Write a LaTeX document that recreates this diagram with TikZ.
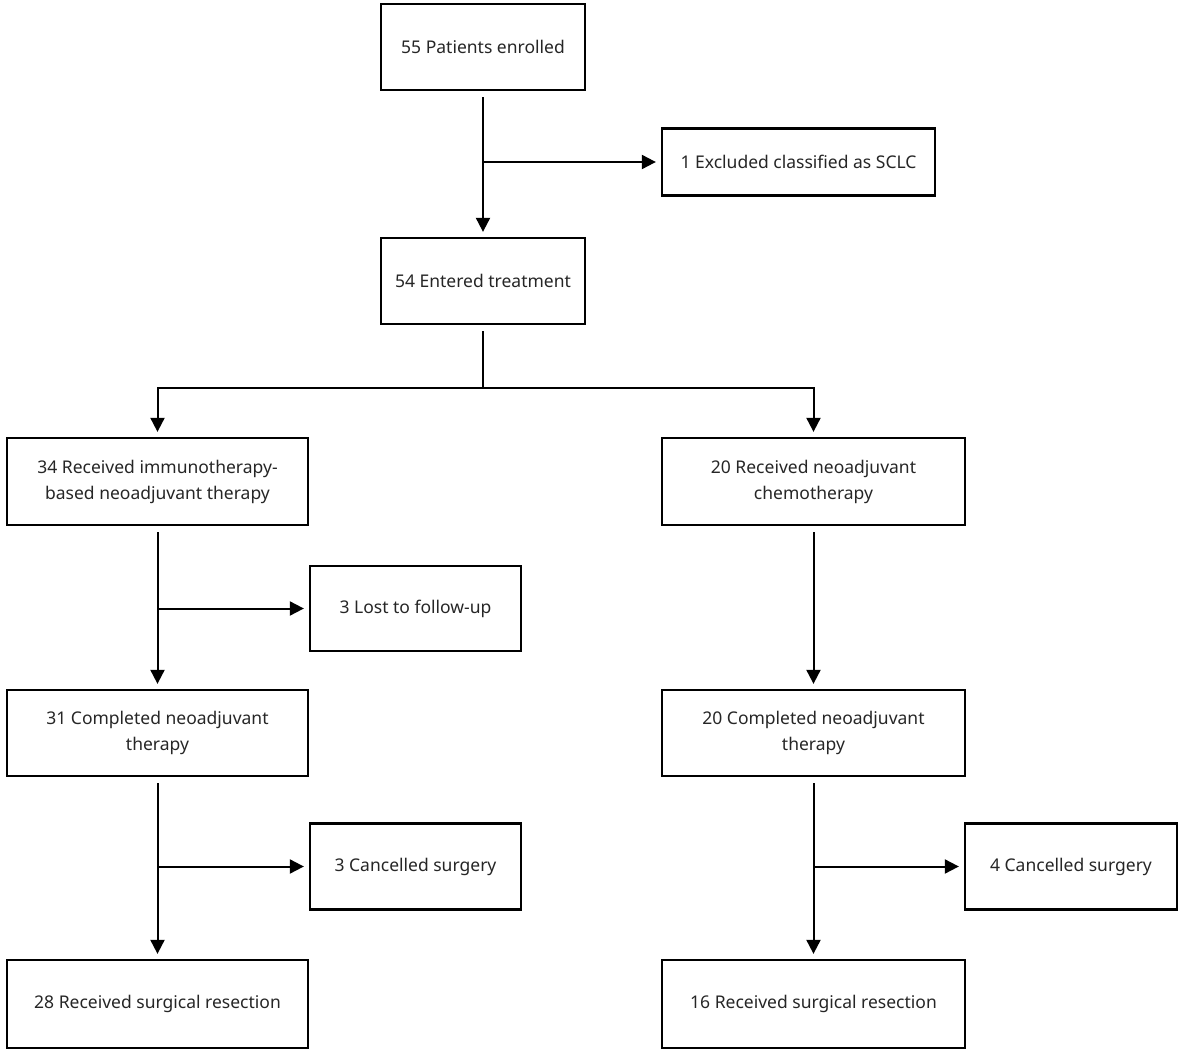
\documentclass[tikz,border=0pt]{standalone}
\usepackage{fontspec}
\setmainfont{Noto Sans}
\usetikzlibrary{arrows.meta}
\tikzset{
  box/.style={draw=black, line width=2.3pt, fill=white, align=center, inner sep=0pt,
    font=\fontsize{17.5}{26}\selectfont, text=black!85},
  conn/.style={draw=black, line width=2pt},
  arr/.style={conn, -{Triangle[length=14pt,width=14pt]}, shorten >=5pt},
}
\begin{document}
\begin{tikzpicture}[x=1pt,y=-1pt]
\useasboundingbox (0,0) rectangle (1181,1054);
% boxes (center, width, height)
\node[box, minimum width=204pt, minimum height=86pt] (A) at (483,47) {55 Patients enrolled};
\node[box, minimum width=273pt, minimum height=67pt] (B) at (798.5,162) {1 Excluded classified as SCLC};
\node[box, minimum width=204pt, minimum height=86pt] (C) at (483,281) {54 Entered treatment};
\node[box, minimum width=301pt, minimum height=87pt] (D) at (157.5,481.5) {34 Received immunotherapy-\\based neoadjuvant therapy};
\node[box, minimum width=303pt, minimum height=87pt] (E) at (813.5,481.5) {20 Received neoadjuvant\\chemotherapy};
\node[box, minimum width=211pt, minimum height=85pt] (F) at (415.5,608.5) {3 Lost to follow-up};
\node[box, minimum width=301pt, minimum height=86pt] (G) at (157.5,733) {31 Completed neoadjuvant\\therapy};
\node[box, minimum width=303pt, minimum height=86pt] (H) at (813.5,733) {20 Completed neoadjuvant\\therapy};
\node[box, minimum width=211pt, minimum height=86pt] (I) at (415.5,866.5) {3 Cancelled surgery};
\node[box, minimum width=212pt, minimum height=86pt] (J) at (1071,866.5) {4 Cancelled surgery};
\node[box, minimum width=301pt, minimum height=88pt] (K) at (157.5,1004) {28 Received surgical resection};
\node[box, minimum width=303pt, minimum height=88pt] (L) at (813.5,1004) {16 Received surgical resection};
% connectors
\draw[arr, shorten <=6pt] (A.south) -- (C.north);
\draw[arr] (A.south |- B.west) -- (B.west);
\coordinate (s) at (483,388);
\draw[conn, shorten <=6pt] (C.south) -- (s);
\draw[arr] (s) -| (D.north);
\draw[arr] (s) -| (E.north);
\draw[arr, shorten <=6pt] (D.south) -- (G.north);
\draw[arr] (D.south |- F.west) -- (F.west);
\draw[arr, shorten <=6pt] (E.south) -- (H.north);
\draw[arr, shorten <=6pt] (G.south) -- (K.north);
\draw[arr] (G.south |- I.west) -- (I.west);
\draw[arr, shorten <=6pt] (H.south) -- (L.north);
\draw[arr] (H.south |- J.west) -- (J.west);
\end{tikzpicture}
\end{document}
